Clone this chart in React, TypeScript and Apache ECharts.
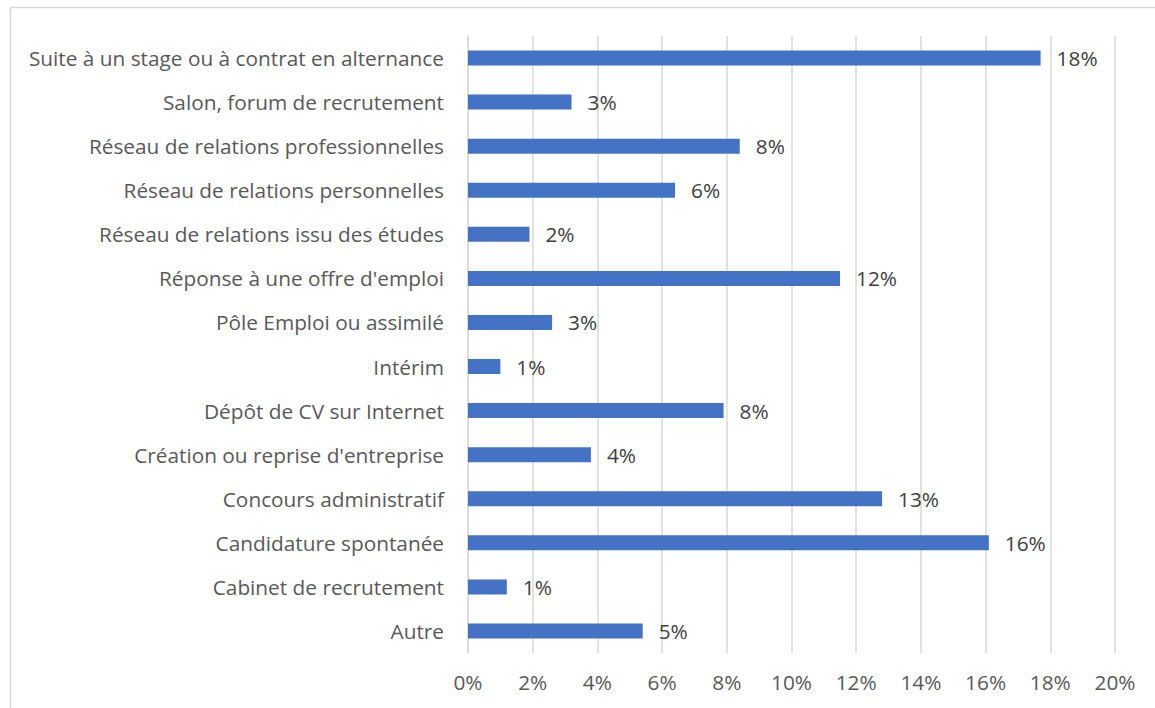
import React, { useEffect, useRef } from "react";
import * as echarts from "echarts";

const categories = [
  "Suite à un stage ou à contrat en alternance",
  "Salon, forum de recrutement",
  "Réseau de relations professionnelles",
  "Réseau de relations personnelles",
  "Réseau de relations issu des études",
  "Réponse à une offre d'emploi",
  "Pôle Emploi ou assimilé",
  "Intérim",
  "Dépôt de CV sur Internet",
  "Création ou reprise d'entreprise",
  "Concours administratif",
  "Candidature spontanée",
  "Cabinet de recrutement",
  "Autre",
];

const values = [17.7, 3.2, 8.4, 6.4, 1.9, 11.5, 2.6, 1.0, 7.9, 3.8, 12.8, 16.1, 1.2, 5.4];

const xTicks = [0, 2, 4, 6, 8, 10, 12, 14, 16, 18, 20];

const FONT = "'Open Sans', sans-serif";
const FS = 20.8;

export default function App() {
  const ref = useRef<HTMLDivElement>(null);
  useEffect(() => {
    document.body.style.margin = "0";
    const chart = echarts.init(ref.current!, null, { renderer: "svg" });
    const cats = [...categories].reverse();
    const vals = [...values].reverse();
    chart.setOption({
      animation: false,
      backgroundColor: "#ffffff",
      textStyle: { fontFamily: FONT },
      grid: { left: 468, right: 40, top: 36, bottom: 55, containLabel: false },
      xAxis: {
        type: "value",
        min: xTicks[0],
        max: xTicks[xTicks.length - 1],
        interval: 2,
        axisLine: { show: false },
        axisTick: { show: false },
        splitLine: { show: true, lineStyle: { color: "#D9D9D9", width: 1.5 } },
        axisLabel: {
          formatter: (v: number) => v + "%",
          color: "#595959",
          fontSize: FS,
          fontFamily: FONT,
          margin: 18,
        },
      },
      yAxis: {
        type: "category",
        data: cats,
        axisLine: { show: true, lineStyle: { color: "#D9D9D9", width: 1.5 } },
        axisTick: { show: false },
        axisLabel: {
          color: "#595959",
          fontSize: FS,
          fontFamily: FONT,
          margin: 24,
        },
      },
      series: [
        {
          type: "bar",
          data: vals,
          barWidth: 15,
          itemStyle: { color: "#4472C4" },
          label: {
            show: true,
            position: "right",
            distance: 16,
            formatter: (p: any) => Math.round(p.value) + "%",
            color: "#404040",
            fontSize: FS,
            fontFamily: FONT,
          },
        },
      ],
      graphic: [
        {
          type: "line",
          shape: { x1: 10.5, y1: 7.5, x2: 1155, y2: 7.5 },
          style: { stroke: "#D9D9D9", lineWidth: 1.5 },
        },
        {
          type: "line",
          shape: { x1: 10.5, y1: 7.5, x2: 10.5, y2: 708 },
          style: { stroke: "#D9D9D9", lineWidth: 1.5 },
        },
      ],
    });
    return () => chart.dispose();
  }, []);
  return <div ref={ref} style={{ width: 1155, height: 708 }} />;
}
